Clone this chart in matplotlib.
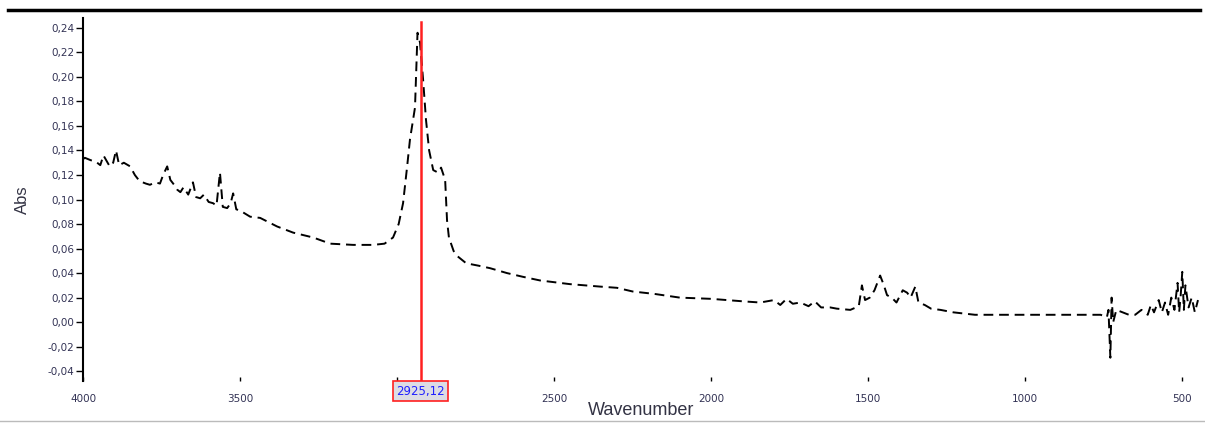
import numpy as np
import matplotlib
matplotlib.use("Agg")
import matplotlib.pyplot as plt
from matplotlib.lines import Line2D
from matplotlib.ticker import FuncFormatter

# ===== Data ================================================================
wavenumber = [
    4000, 3994, 3975, 3960, 3945, 3935, 3915, 3904, 3895, 3885, 3870, 3850,
    3835, 3820, 3800, 3787, 3770, 3755, 3745, 3732, 3722, 3710, 3700, 3690,
    3680, 3665, 3650, 3640, 3627, 3615, 3600, 3586, 3575, 3564, 3555, 3541,
    3530, 3522, 3512, 3500, 3468, 3436, 3382, 3331, 3267, 3213, 3140, 3076,
    3040, 3013, 2995, 2981, 2968, 2959, 2943, 2935, 2927, 2917, 2908, 2898,
    2885, 2870, 2860, 2847, 2841, 2835, 2820, 2809, 2780, 2740, 2704, 2650,
    2600, 2545, 2450, 2354, 2300, 2250, 2180, 2100, 2000, 1900, 1844, 1800,
    1780, 1760, 1740, 1716, 1690, 1670, 1650, 1621, 1600, 1557, 1530, 1520,
    1510, 1495, 1480, 1462, 1450, 1440, 1425, 1410, 1390, 1376, 1365, 1350,
    1340, 1320, 1300, 1270, 1229, 1160, 1100, 1000, 900, 800, 770, 760,
    740, 735, 729, 725, 720, 710, 690, 670, 650, 630, 610, 600, 590, 575,
    565, 555, 545, 535, 525, 515, 510, 505, 500, 495, 490, 480, 470, 460,
    450,
]
absorbance = [
    0.133, 0.134, 0.132, 0.131, 0.128, 0.136, 0.127, 0.130, 0.140, 0.128,
    0.130, 0.127, 0.120, 0.115, 0.113, 0.112, 0.114, 0.113, 0.120, 0.127,
    0.116, 0.112, 0.108, 0.106, 0.110, 0.104, 0.114, 0.102, 0.101, 0.104,
    0.098, 0.097, 0.095, 0.122, 0.094, 0.093, 0.097, 0.105, 0.092, 0.091,
    0.086, 0.085, 0.078, 0.073, 0.069, 0.064, 0.063, 0.063,
    0.064, 0.069, 0.080, 0.097, 0.127, 0.149, 0.175, 0.236, 0.228, 0.197,
    0.165, 0.140, 0.124, 0.122, 0.126, 0.116, 0.083, 0.069, 0.058, 0.054,
    0.048, 0.046, 0.044, 0.040, 0.037, 0.034, 0.031, 0.029, 0.028, 0.025,
    0.023, 0.020, 0.019, 0.017, 0.016, 0.018, 0.014, 0.019, 0.015, 0.016,
    0.013, 0.017, 0.012, 0.012, 0.011, 0.010, 0.013, 0.030, 0.018, 0.020,
    0.026, 0.038, 0.030, 0.022, 0.020, 0.016, 0.026, 0.024, 0.020, 0.029,
    0.016, 0.014, 0.011, 0.010, 0.008, 0.006, 0.006, 0.006, 0.006, 0.006,
    0.006, 0.006, 0.004, 0.010, -0.029, 0.020, 0.000, 0.010, 0.008, 0.006,
    0.006, 0.010, 0.006, 0.014, 0.008, 0.018, 0.008, 0.016, 0.006, 0.020,
    0.010, 0.032, 0.008, 0.022, 0.041, 0.010, 0.030, 0.012, 0.020, 0.008,
    0.018,
]
cursor_wn = 2925.12
x_ticks = [4000, 3500, 3000, 2500, 2000, 1500, 1000, 500]
# the 3000 label is hidden behind the cursor readout
x_labels = ["4000", "3500", "", "2500", "2000", "1500", "1000", "500"]
y_ticks = [-0.04, -0.02, 0.00, 0.02, 0.04, 0.06, 0.08, 0.10, 0.12,
           0.14, 0.16, 0.18, 0.20, 0.22, 0.24]

# ===== Plotting ============================================================
fig = plt.figure(figsize=(12.05, 4.24), dpi=100)
ax = fig.add_axes([0.0689, 0.1014, 0.9271, 0.8561])

ax.plot(wavenumber, absorbance, color="black", lw=1.4,
        linestyle=(0, (5, 3)))
ax.axvline(cursor_wn, ymin=0.0, ymax=0.99, color="#ff2020", lw=1.8)

ax.set_xlim(4000, 443)
ax.set_ylim(-0.048, 0.248)
ax.set_xticks(x_ticks, x_labels)
ax.set_yticks(y_ticks)

comma = FuncFormatter(lambda v, p: f"{v:.2f}".replace(".", ","))
ax.yaxis.set_major_formatter(comma)

for s in ["top", "right", "bottom"]:
    ax.spines[s].set_visible(False)
ax.spines["left"].set_linewidth(1.5)

ax.tick_params(axis="y", direction="out", length=5, width=1,
               labelsize=7.5, labelcolor="#333355", pad=1)
ax.tick_params(axis="x", direction="in", length=3, width=1,
               labelsize=7.5, labelcolor="#333355", pad=9)

ax.set_xlabel("Wavenumber", fontsize=13, family="Liberation Sans",
              color="#333344", labelpad=-1)
ax.set_ylabel("Abs", fontsize=12, family="Liberation Sans",
              color="#333344", labelpad=13)

# cursor readout below the axis
ax.text(cursor_wn, -0.0565, f"{cursor_wn:.2f}".replace(".", ","),
        fontsize=8.5, color="#2020ff", ha="center", va="center",
        zorder=10, clip_on=False,
        bbox=dict(boxstyle="square,pad=0.3", fc="#dcdce4",
                  ec="#ff2020", lw=1.2))

# frame lines of the window
fig.add_artist(Line2D([0.007, 0.996], [0.976, 0.976], color="black", lw=2.5))
fig.add_artist(Line2D([0.0, 1.0], [0.007, 0.007], color="#bbbbbb", lw=1))

fig.savefig("out.png", dpi=100)
